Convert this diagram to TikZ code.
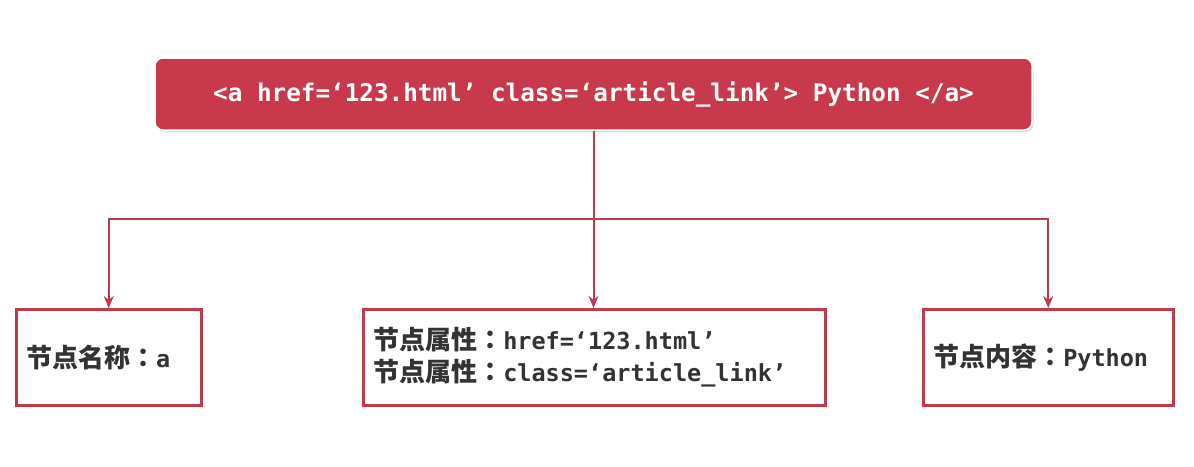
\documentclass[tikz,border=0pt]{standalone}
\usepackage{fontspec}
\setmonofont{DejaVu Sans Mono}
\newfontfamily\cjk{Noto Sans CJK SC}
\newfontfamily\cjkpunct{Noto Sans CJK TC}
\usepackage{xcolor}
\usepackage{tikz}
\usetikzlibrary{arrows.meta, positioning, shadows}

\definecolor{tagred}{HTML}{C8394B}
\definecolor{edgered}{HTML}{C13A4B}
\definecolor{txtgrey}{HTML}{333333}

\newcommand{\codepart}[1]{{\fontsize{23.5}{32}\selectfont\ttfamily #1}}

\begin{document}
\begin{tikzpicture}[
    x=1pt, y=-1pt,
    tag/.style={fill=tagred, draw=white, line width=1.5pt,
                rounded corners=8pt, text=white,
                minimum width=877pt, minimum height=72pt,
                font=\fontsize{24.3}{30}\selectfont\ttfamily\bfseries,
                drop shadow={opacity=0.25, shadow xshift=1.5pt, shadow yshift=-2pt}},
    part/.style={draw=edgered, line width=2.5pt, fill=white,
                 minimum height=96pt, inner xsep=10pt, align=left,
                 anchor=north west, text=txtgrey,
                 font=\fontsize{26}{32}\selectfont\bfseries,
                 drop shadow={opacity=0.2, shadow xshift=1.5pt, shadow yshift=-1.5pt}},
    arr/.style={-{Stealth[length=12pt, width=10pt]}, draw=edgered, line width=2pt},
    lnk/.style={draw=edgered, line width=2pt}
  ]
  \useasboundingbox (0,0) rectangle (1194,466);

  % the tag itself
  \node[tag] (anchor) at (593.5, 94)
    {<a href=‘123.html’ class=‘article\_link’> Python </a>};

  % the three parts of the tag
  \node[part, text width=165pt] (tname) at (15, 308)
    {{\cjk 节点名称}{\cjkpunct ：}\codepart{a}};
  \node[part, text width=442pt] (tattr) at (362, 308)
    {{\cjk 节点属性}{\cjkpunct ：}\codepart{href=‘123.html’}\\
     {\cjk 节点属性}{\cjkpunct ：}\codepart{class=‘article\_link’}};
  \node[part, text width=230pt] (tbody) at (922, 308)
    {{\cjk 节点内容}{\cjkpunct ：}\codepart{Python}};

  % connectors
  \coordinate (fork) at (anchor.south |- 0, 219);
  \draw[lnk] (anchor.south) -- (fork);
  \draw[arr] (fork) -| (tname.north);
  \draw[arr] (fork) -| (tbody.north);
  \draw[arr] (fork) -- (fork |- tattr.north);
\end{tikzpicture}
\end{document}
